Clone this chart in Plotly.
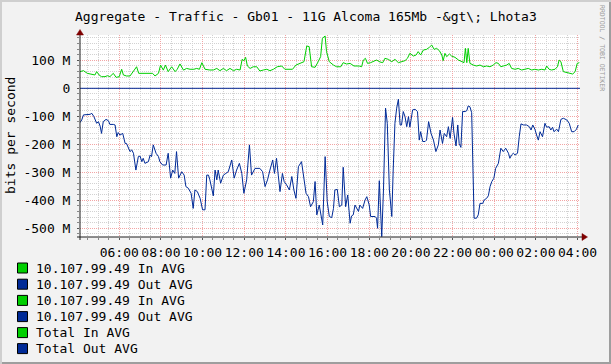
import plotly.graph_objects as go
import pandas as pd

# ---------------- data ----------------
T0 = pd.Timestamp("2013-05-14 04:07")   # left edge of the graph; 24 h window

in_minutes = [0, 10, 21, 34, 43, 48, 55, 62, 72, 79, 86, 96, 104, 113, 120, 125, 134, 144, 154, 163,
              169, 182, 197, 209, 216, 226, 232, 240, 246, 254, 264, 274, 280, 288, 298, 307, 317, 328,
              336, 344, 351, 360, 374, 384, 394, 403, 413, 422, 432, 442, 451, 461, 467, 472, 477, 482,
              490, 499, 509, 518, 528, 538, 547, 557, 568, 581, 590, 600, 612, 622, 634, 645, 653, 660,
              667, 677, 686, 693, 698, 706, 710, 718,
              730, 739, 751, 758, 768, 778, 789, 804, 811, 816, 822, 828, 837, 845, 854, 864, 872, 878,
              888, 898, 907, 917, 926, 936, 943, 950, 960, 968, 974, 981, 989, 998, 1006, 1013, 1020,
              1027, 1035, 1042, 1046, 1051, 1056, 1064, 1070, 1080, 1090, 1099, 1106, 1110, 1114, 1118,
              1123, 1133, 1142, 1152, 1162, 1171, 1181, 1190, 1198, 1205, 1212, 1219, 1229, 1236, 1243,
              1253, 1262, 1272, 1282, 1291, 1301, 1310, 1320, 1330, 1339, 1344, 1351, 1358, 1368, 1375,
              1380, 1385, 1392, 1402, 1411, 1419, 1426, 1432, 1438]
in_mbps = [59.5, 63, 53.5, 50, 47.6, 59.5, 47.6, 41.6, 41.6, 45, 41.6, 53.5, 39, 41.6, 68, 47.6, 44, 44,
           59.5, 77, 53.5, 53.5, 53.5, 53.5, 44, 53.5, 83, 65, 83, 59.5, 77, 59.5, 68, 87, 65, 71, 68, 68,
           71, 68, 91.6, 68, 65.4, 65.4, 71, 63, 71, 63, 71, 63, 68, 65.4, 103.5, 98.7, 110.6, 79.7, 71,
           77, 77, 61.8, 65.4, 68, 63, 68, 77, 79.7, 68, 68, 68, 83, 89, 95, 151, 149, 77, 75, 95, 113,
           178.5, 187, 131, 95,
           83, 77, 77, 91.6, 86.8, 89, 79.7, 79.7, 77, 101, 107, 89, 91.6, 95, 101, 94, 91.6, 107,
           103.5, 95, 103.5, 91.6, 95, 98.7, 107, 125, 115.4, 119, 131, 119, 136.8, 139, 146.3, 154.6,
           139, 142.7, 134.4, 119, 98.7, 125, 113, 122.5, 115.4, 110.6, 101, 95, 91.6, 142.7, 91.6,
           142.7, 89, 83, 79.7, 83, 77, 79.7, 77, 83, 91.6, 89, 77, 79.7, 83, 89, 71, 68, 71, 65.4, 68,
           71, 65.4, 68, 65.4, 68, 65.4, 79.7, 68, 65.4, 68, 77, 101, 95, 59.5, 56, 53.5, 51, 59.5, 89,
           91.6]

out_minutes = [0, 5, 10, 19, 29, 34, 40, 48, 53, 58, 62, 67, 75, 82, 86, 96, 101, 106, 110, 115, 123,
               130, 134, 144, 149, 154, 161, 168, 173, 178, 182, 187, 197, 202, 206, 211, 219, 226, 230,
               238, 248, 254, 261, 267, 273, 278, 284, 293, 300, 305, 312, 320, 326, 331, 338, 346, 353,
               360, 365, 370, 374, 384, 389, 394, 398, 405, 413, 420, 427, 437, 444, 451, 459, 466, 472,
               480, 488, 494, 504, 518, 526, 533, 540, 547, 555, 560, 566, 571, 576, 583, 588, 595, 603,
               610, 616, 622, 629, 638, 643, 651, 658, 664, 672, 677, 682, 689, 699, 706, 712, 718,
               725, 730, 734, 741, 747, 754, 758, 765, 771, 778, 782, 787, 792, 797, 802, 806, 814, 821,
               826, 833, 837, 850, 854, 857, 862, 869, 874, 880, 885, 891, 898, 902, 907, 912, 917, 922,
               926, 931, 936, 941, 946, 950, 958, 965, 972, 977, 981, 987, 994, 998, 1004, 1011, 1018,
               1025, 1032, 1037, 1044, 1049, 1056, 1061, 1066, 1073, 1077, 1083, 1088, 1092, 1097, 1102,
               1109, 1114, 1118, 1123, 1128, 1135, 1142, 1147, 1152, 1160, 1164, 1171, 1176, 1181, 1186,
               1192, 1197, 1205, 1212, 1219, 1226, 1234, 1238, 1243, 1248, 1253, 1260, 1265, 1270, 1277,
               1286, 1294, 1299, 1304, 1310, 1315, 1320, 1325, 1332, 1339, 1344, 1351, 1356, 1361, 1365,
               1373, 1378, 1385, 1392, 1402, 1409, 1416, 1423, 1430, 1435]
out_mbps = [-122.7, -113, -95, -95, -93, -89.4, -101, -125, -119, -135, -161, -119, -111, -116, -129,
            -129, -131, -173, -158, -167, -161, -197, -197, -226, -220, -232, -292, -244, -242, -262,
            -250, -268, -262, -238, -244, -202, -232, -244, -262, -274, -274, -232, -321, -292, -304,
            -226, -321, -298, -310, -351, -357, -375, -429, -363, -369, -393, -434, -434, -310, -310,
            -327, -384, -292, -327, -292, -339, -310, -304, -298, -256, -321, -292, -268, -304, -375,
            -327, -202, -310, -286, -286, -298, -351, -327, -292, -256, -304, -250, -310, -369, -304,
            -333, -345, -363, -315, -363, -393, -280, -262, -310, -375, -387, -423, -405, -333, -452,
            -417, -488, -244, -405, -458,
            -462, -429, -363, -361, -423, -417, -282, -423, -381, -482, -456, -452, -417, -429, -440,
            -417, -429, -399, -387, -417, -458, -458, -464, -500, -330, -530, -363, -71, -125, -363,
            -458, -292, -125, -71, -39, -131, -131, -83, -101, -137, -101, -139, -77, -75, -83, -185,
            -155, -190, -190, -185, -119, -161, -185, -226, -202, -149, -197, -161, -173, -137, -179,
            -104, -161, -206, -131, -197, -211, -83, -83, -80, -63, -66, -87, -464, -464, -452, -411,
            -411, -399, -393, -384, -351, -333, -321, -286, -268, -214, -226, -214, -232, -250, -238,
            -232, -238, -232, -173, -127, -131, -131, -137, -149, -131, -146, -167, -185, -155, -173,
            -125, -139, -137, -149, -139, -155, -146, -155, -111, -107, -113, -125, -155, -155, -146,
            -131]

zero_minutes = [0, 1440]          # second host: flat at zero
zero_mbps = [0, 0]

legend_labels = ["10.107.99.49 In AVG", "10.107.99.49 Out AVG", "10.107.99.49 In AVG",
                 "10.107.99.49 Out AVG", "Total In AVG", "Total Out AVG"]
y_tick_vals = [100, 0, -100, -200, -300, -400, -500]
y_tick_text = ["100 M", "0", "-100 M", "-200 M", "-300 M", "-400 M", "-500 M"]

TITLE = "Aggregate - Traffic - Gb01 - 11G Alcoma 165Mb -&gt\\; Lhota3"
Y_TITLE = "bits per second"
WATERMARK = "RRDTOOL / TOBI OETIKER"

# ---------------- styling ----------------
W, H = 611, 364
L, R, T, B = 80, 31, 35, 127
PW, PH = W - L - R, H - T - B
GREEN, BLUE = "#00CF00", "#002A97"
legend_colors = [GREEN, BLUE, GREEN, BLUE, GREEN, BLUE]
FONT = "DejaVu Sans Mono"
BG = "#F2F2F2"


def px(x):
    return (x - L) / PW


def py(y):
    return (H - B - y) / PH


def when(mins):
    return [T0 + pd.Timedelta(minutes=m) for m in mins]


fig = go.Figure()
fig.add_trace(go.Scatter(x=when(in_minutes), y=in_mbps, mode="lines",
                         line=dict(color=GREEN, width=1), showlegend=False, hoverinfo="skip"))
fig.add_trace(go.Scatter(x=when(out_minutes), y=out_mbps, mode="lines",
                         line=dict(color=BLUE, width=1), showlegend=False, hoverinfo="skip"))
fig.add_trace(go.Scatter(x=when(zero_minutes), y=zero_mbps, mode="lines",
                         line=dict(color=BLUE, width=1), showlegend=False, hoverinfo="skip"))

MGRID = "#F2A5A5"
GRID = "#D2D2D2"
fig.update_layout(
    width=W, height=H,
    margin=dict(l=L, r=R, t=T, b=B, pad=0),
    paper_bgcolor=BG, plot_bgcolor="#FFFFFF",
    showlegend=False,
    font=dict(family=FONT, size=13, color="#000000"),
    xaxis=dict(
        type="date",
        range=[T0, T0 + pd.Timedelta(minutes=1440)],
        tick0=pd.Timestamp("2013-05-14 06:00"), dtick=7200000,
        tickformat="%H:%M",
        showgrid=True, gridcolor=MGRID, griddash="1px,1px", gridwidth=1,
        ticks="outside", ticklen=2, tickcolor="#555555",
        minor=dict(dtick=1800000, tick0=pd.Timestamp("2013-05-14 06:00"), showgrid=True,
                   gridcolor=GRID, griddash="1px,1px", ticks="outside", ticklen=2,
                   tickcolor="#888888"),
        showline=False, zeroline=False, automargin=False,
        tickfont=dict(family=FONT, size=13, color="#000000"),
        ticklabelstandoff=1,
        fixedrange=True,
    ),
    yaxis=dict(
        range=[-531.1, 190.4],
        tickmode="array", tickvals=y_tick_vals, ticktext=y_tick_text,
        showgrid=True, gridcolor=MGRID, griddash="1px,1px", gridwidth=1,
        ticks="outside", ticklen=2, tickcolor="#555555",
        minor=dict(dtick=20, tick0=0, showgrid=True, gridcolor=GRID, griddash="1px,1px",
                   ticks="outside", ticklen=2, tickcolor="#888888"),
        showline=False, zeroline=False, automargin=False,
        tickfont=dict(family=FONT, size=13, color="#000000"),
        ticklabelstandoff=4,
        fixedrange=True,
    ),
)

shapes = []
AX = "#1F1F1F"
ARROW = "#7F0000"
# axes
shapes.append(dict(type="line", xref="paper", yref="paper", x0=px(77), x1=px(583), y0=py(237), y1=py(237),
                   line=dict(color=AX, width=1), layer="above"))
shapes.append(dict(type="line", xref="paper", yref="paper", x0=px(80), x1=px(80), y0=py(240), y1=py(32),
                   line=dict(color=AX, width=1), layer="above"))
# arrows
shapes.append(dict(type="path", xref="paper", yref="paper",
                   path=f"M {px(582)} {py(233.5)} L {px(587.5)} {py(237)} L {px(582)} {py(240.5)} Z",
                   fillcolor=ARROW, line=dict(color=ARROW, width=0.5), layer="above"))
shapes.append(dict(type="path", xref="paper", yref="paper",
                   path=f"M {px(76.5)} {py(35)} L {px(80)} {py(29.5)} L {px(83.5)} {py(35)} Z",
                   fillcolor=ARROW, line=dict(color=ARROW, width=0.5), layer="above"))
# 3-D frame shading
shapes.append(dict(type="rect", xref="paper", yref="paper", x0=px(0), x1=px(W), y0=py(0), y1=py(2),
                   fillcolor="#CFCFCF", line=dict(width=0), layer="below"))
shapes.append(dict(type="rect", xref="paper", yref="paper", x0=px(0), x1=px(2), y0=py(0), y1=py(H),
                   fillcolor="#CFCFCF", line=dict(width=0), layer="below"))
shapes.append(dict(type="rect", xref="paper", yref="paper", x0=px(2), x1=px(W), y0=py(H - 2), y1=py(H),
                   fillcolor="#9E9E9E", line=dict(width=0), layer="below"))
shapes.append(dict(type="rect", xref="paper", yref="paper", x0=px(W - 2), x1=px(W), y0=py(2), y1=py(H),
                   fillcolor="#9E9E9E", line=dict(width=0), layer="below"))

annotations = []
row_y = [268, 284.2, 300.4, 316.6, 332.6, 348.6]
for lab, col, yc in zip(legend_labels, legend_colors, row_y):
    shapes.append(dict(type="rect", xref="paper", yref="paper", x0=px(17.5), x1=px(27.5),
                       y0=py(yc - 5), y1=py(yc + 5), fillcolor=col, line=dict(color="#000000", width=1),
                       layer="above"))
    annotations.append(dict(text=lab, xref="paper", yref="paper", x=px(34), y=py(yc),
                            xanchor="left", yanchor="middle", showarrow=False,
                            font=dict(family=FONT, size=13, color="#000000")))

annotations.append(dict(text=TITLE, xref="paper", yref="paper", x=px(W / 2), y=py(16.5),
                        xanchor="center", yanchor="middle", showarrow=False,
                        font=dict(family=FONT, size=13, color="#000000")))
annotations.append(dict(text=Y_TITLE, xref="paper", yref="paper", x=px(10), y=py(136),
                        xanchor="center", yanchor="middle", textangle=-90, showarrow=False,
                        font=dict(family=FONT, size=13, color="#000000")))
annotations.append(dict(text=WATERMARK, xref="paper", yref="paper", x=px(602), y=py(48),
                        xanchor="center", yanchor="middle", textangle=90, showarrow=False,
                        borderpad=0,
                        font=dict(family=FONT, size=6.5, color="#9A9A9A")))

fig.update_layout(shapes=shapes, annotations=annotations)
fig.write_html("out.html")
